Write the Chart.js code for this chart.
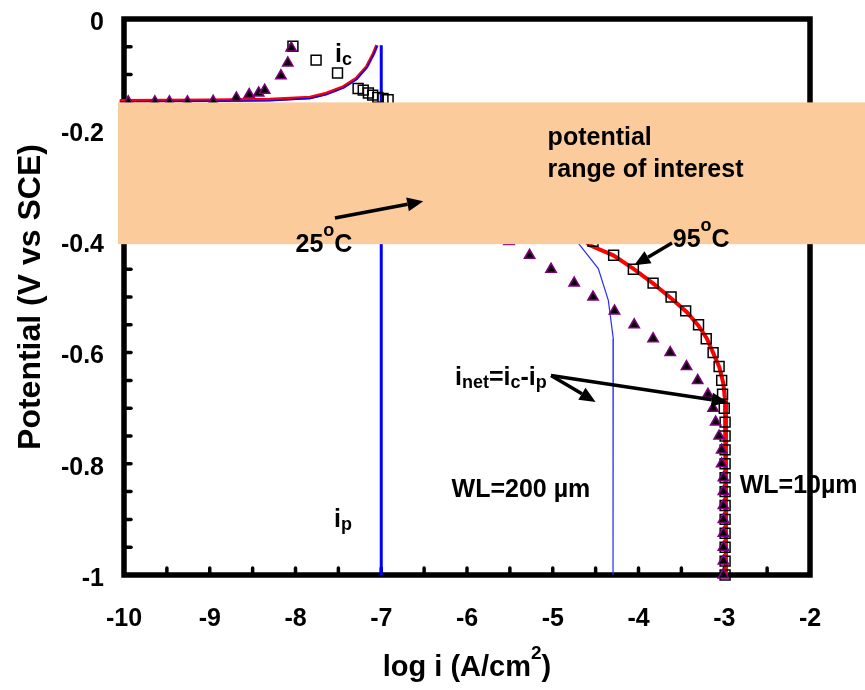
<!DOCTYPE html>
<html>
<head>
<meta charset="utf-8">
<script src="https://cdn.jsdelivr.net/npm/chart.js@4.4.1/dist/chart.umd.min.js"></script>
<style>
    html, body { margin: 0; padding: 0; background: #fff; }
    #grafico { display: block; }
</style>
</head>
<body>
<canvas id="grafico" width="865" height="690"></canvas>
<script>
const FONT = '"Liberation Sans", Arial, sans-serif';

// Ejes: log i (A/cm2) en x, potencial (V vs SCE) en y
const xTicks = [-10, -9, -8, -7, -6, -5, -4, -3, -2];
const yTicks = [0, -0.2, -0.4, -0.6, -0.8, -1];

// Rango de potencial de interes (banda)
const bandTop = -0.15;
const bandBottom = -0.405;

// 25 C: corriente pasiva i_p (linea azul gruesa)
const ip25Log = [-7, -7];
const ip25V = [-0.047, -1];

// 25 C: curva calculada (roja con azul encima)
const net25Log = [-10.05, -9, -8.3, -7.83, -7.64, -7.44, -7.29, -7.17, -7.09, -7.05];
const net25V = [-0.147, -0.146, -0.145, -0.141, -0.134, -0.122, -0.107, -0.086, -0.062, -0.047];
const net25BlueV = [-0.149, -0.148, -0.147, -0.143, -0.136, -0.124, -0.109, -0.088, -0.064, -0.049];

// 25 C: i_c (cuadros) y i_net (triangulos)
const ic25Log = [-8.03, -7.76, -7.51, -7.27, -7.21, -7.15, -7.10, -7.04, -6.98, -6.92];
const ic25V = [-0.049, -0.074, -0.097, -0.125, -0.128, -0.133, -0.137, -0.141, -0.143, -0.145];
const tri25Log = [-9.95, -9.64, -9.47, -9.26, -8.96, -8.69, -8.54, -8.43, -8.36, -8.17, -8.09, -8.05];
const tri25V = [-0.149, -0.149, -0.149, -0.149, -0.148, -0.142, -0.136, -0.133, -0.128, -0.102, -0.079, -0.052];

// 95 C: potenciales de los puntos
const v95 = [-0.4, -0.425, -0.45, -0.475, -0.5, -0.525, -0.55, -0.575, -0.6, -0.625, -0.65, -0.675, -0.7,
             -0.725, -0.75, -0.775, -0.8, -0.825, -0.85, -0.875, -0.9, -0.925, -0.95, -0.975, -1];
// 95 C: i_c (cuadros)
const ic95Log = [-4.53, -4.29, -4.06, -3.83, -3.62, -3.45, -3.30, -3.21, -3.13, -3.06, -3.03, -3.02, -3.00,
                 -2.99, -2.99, -2.99, -2.99, -2.99, -2.99, -2.99, -2.99, -2.99, -2.99, -2.99, -2.99];
// 95 C: i_net (triangulos)
const net95Log = [-5.51, -5.27, -5.02, -4.75, -4.53, -4.28, -4.05, -3.83, -3.63, -3.44, -3.31, -3.19, -3.13,
                  -3.10, -3.06, -3.03, -3.03, -3.01, -3.01, -3.01, -3.01, -3.01, -3.01, -3.01, -3.01];

// 95 C: WL=10 um (roja) y WL=200 um (azul fina)
const wl10Log = [-4.95, -4.566, -4.294, -4.061, -3.827, -3.613, -3.438, -3.303, -3.205, -3.128, -3.058, -3.011, -2.991, -2.98, -2.98];
const wl10V = [-0.36, -0.407, -0.425, -0.449, -0.476, -0.503, -0.527, -0.551, -0.574, -0.601, -0.626, -0.655, -0.685, -0.721, -1];
const wl200Log = [-4.92, -4.682, -4.469, -4.352, -4.294, -4.297];
const wl200V = [-0.36, -0.407, -0.449, -0.506, -0.575, -1];

const pts = (xs, ys) => xs.map((v, i) => ({ x: v, y: ys[i] }));

// Textos sobre el grafico: [partes, log i, V]
const etiquetas = [
    [[['i'], ['c', 'sub']], -7.54, -0.078],
    [[['potential']], -5.06, -0.227],
    [[['range of interest']], -5.06, -0.285],
    [[['25'], ['o', 'sup'], ['C']], -8.0, -0.419],
    [[['95'], ['o', 'sup'], ['C']], -3.6, -0.41],
    [[['i'], ['net', 'sub'], ['=i'], ['c', 'sub'], ['-i'], ['p', 'sub']], -6.14, -0.658],
    [[['WL=200 \u00b5m']], -6.18, -0.86],
    [[['WL=10\u00b5m']], -2.82, -0.853],
    [[['i'], ['p', 'sub']], -7.55, -0.914]
];

// Flechas: [x1, y1, x2, y2] en unidades del grafico
const flechas = [
    [-7.54, -0.358, -6.51, -0.328],
    [-3.61, -0.403, -4.05, -0.443],
    [-5.02, -0.641, -4.50, -0.689],
    [-5.02, -0.641, -2.96, -0.689]
];

const dibujarTexto = (ctx, partes, x, y) => {
    let cx = x;
    partes.forEach(([t, tipo]) => {
        ctx.font = `bold ${tipo ? 18 : 25}px ${FONT}`;
        const dy = tipo === 'sub' ? 3 : tipo === 'sup' ? -16 : 0;
        ctx.fillText(t, cx, y + dy);
        cx += ctx.measureText(t).width;
    });
};

const flecha = (ctx, x1, y1, x2, y2) => {
    const ang = Math.atan2(y2 - y1, x2 - x1);
    const largo = 16, ancho = 7;
    const bx = x2 - largo * Math.cos(ang), by = y2 - largo * Math.sin(ang);
    ctx.beginPath();
    ctx.moveTo(x1, y1);
    ctx.lineTo(bx, by);
    ctx.stroke();
    ctx.beginPath();
    ctx.moveTo(x2, y2);
    ctx.lineTo(bx + ancho * Math.sin(ang), by - ancho * Math.cos(ang));
    ctx.lineTo(bx - ancho * Math.sin(ang), by + ancho * Math.cos(ang));
    ctx.closePath();
    ctx.fill();
};

const decoracion = {
    id: 'decoracion',
    beforeDatasetsDraw(chart) {
        const { ctx, chartArea: a, scales: { x, y } } = chart;
        ctx.save();
        ctx.strokeStyle = '#000';
        ctx.lineWidth = 3.5;
        ctx.lineCap = 'round';
        // marcas hacia adentro cada 0.5 en x y cada 0.05 en y
        for (let i = 1; i < 16; i++) {
            const px = x.getPixelForValue(-10 + i * 0.5);
            ctx.beginPath(); ctx.moveTo(px, a.bottom); ctx.lineTo(px, a.bottom - 7); ctx.stroke();
        }
        for (let i = 1; i < 20; i++) {
            const py = y.getPixelForValue(-i * 0.05);
            ctx.beginPath(); ctx.moveTo(a.left, py); ctx.lineTo(a.left + 7, py); ctx.stroke();
        }
        ctx.lineCap = 'butt';
        ctx.lineWidth = 5.5;
        ctx.strokeRect(a.left, a.top, a.right - a.left, a.bottom - a.top);
        ctx.restore();
    },
    afterDatasetsDraw(chart) {
        const { ctx, chartArea: a, scales: { x, y } } = chart;
        ctx.save();
        // banda del rango de interes
        const x0 = x.getPixelForValue(-10) - 6;
        const y0 = y.getPixelForValue(bandTop), y1 = y.getPixelForValue(bandBottom);
        ctx.fillStyle = '#fbcb9b';
        ctx.fillRect(x0, y0, chart.width - x0, y1 - y0);

        ctx.strokeStyle = '#000';
        ctx.fillStyle = '#000';
        ctx.lineWidth = 3.5;
        flechas.forEach(([a1, b1, a2, b2]) => flecha(ctx,
            x.getPixelForValue(a1), y.getPixelForValue(b1),
            x.getPixelForValue(a2), y.getPixelForValue(b2)));

        ctx.textBaseline = 'alphabetic';
        ctx.textAlign = 'left';
        etiquetas.forEach(([partes, lx, ly]) =>
            dibujarTexto(ctx, partes, x.getPixelForValue(lx), y.getPixelForValue(ly)));

        // titulo del eje x con superindice
        ctx.font = `bold 29px ${FONT}`;
        const t1 = 'log i (A/cm', t2 = '2', t3 = ')';
        const w1 = ctx.measureText(t1).width, w3 = ctx.measureText(t3).width;
        ctx.font = `bold 19px ${FONT}`;
        const w2 = ctx.measureText(t2).width;
        let cx = (a.left + a.right) / 2 - (w1 + w2 + w3) / 2;
        const base = 676;
        ctx.font = `bold 29px ${FONT}`;
        ctx.fillText(t1, cx, base); cx += w1;
        ctx.font = `bold 19px ${FONT}`;
        ctx.fillText(t2, cx, base - 17); cx += w2;
        ctx.font = `bold 29px ${FONT}`;
        ctx.fillText(t3, cx, base);
        ctx.restore();
    }
};

const tri = (data) => ({
    data, showLine: false, pointStyle: 'triangle', pointRadius: 6,
    backgroundColor: '#000', borderColor: '#800080', borderWidth: 1.5, clip: false
});
const cuad = (data) => ({
    data, showLine: false, pointStyle: 'rect', pointRadius: 7,
    backgroundColor: 'rgba(0,0,0,0)', borderColor: '#000', borderWidth: 1.5, clip: false
});
const linea = (data, color, ancho) => ({
    data, showLine: true, pointRadius: 0, borderColor: color, borderWidth: ancho,
    tension: 0, fill: false, clip: false
});

const ctx = document.getElementById('grafico').getContext('2d');
new Chart(ctx, {
    type: 'scatter',
    data: {
        datasets: [
            tri(pts(tri25Log, tri25V)),
            tri(pts(net95Log, v95)),
            cuad(pts(ic25Log, ic25V)),
            cuad(pts(ic95Log, v95)),
            linea(pts(net25Log, net25BlueV), '#0000ff', 1.5),
            linea(pts(net25Log, net25V), '#ff0000', 3.5),
            linea(pts(wl10Log, wl10V), '#ff0000', 4),
            linea(pts(wl200Log, wl200V), '#2a2aff', 1.2),
            linea(pts(ip25Log, ip25V), '#0000ff', 3)
        ]
    },
    options: {
        responsive: false,
        animation: false,
        devicePixelRatio: 1,
        layout: { padding: { left: 0, right: 55, top: 19, bottom: 0 } },
        plugins: { legend: { display: false }, tooltip: { enabled: false } },
        scales: {
            x: {
                type: 'linear', min: -10, max: -2,
                grid: { display: false, drawTicks: false },
                border: { display: false },
                afterBuildTicks: s => { s.ticks = xTicks.map(v => ({ value: v })); },
                ticks: {
                    padding: 29, color: '#000', maxRotation: 0,
                    font: { family: FONT, size: 25, weight: 'bold' },
                    callback: v => String(v)
                },
                afterFit: s => { s.height = 115; s.paddingLeft = 0; s.paddingRight = 0; }
            },
            y: {
                type: 'linear', min: -1, max: 0,
                grid: { display: false, drawTicks: false },
                border: { display: false },
                afterBuildTicks: s => { s.ticks = yTicks.map(v => ({ value: v })); },
                ticks: {
                    padding: 20, color: '#000', labelOffset: 4,
                    font: { family: FONT, size: 25, weight: 'bold' },
                    callback: v => String(Number(v.toFixed(1)))
                },
                title: {
                    display: true, text: 'Potential (V vs SCE)', color: '#000',
                    font: { family: FONT, size: 32, weight: 'bold' },
                    padding: { top: 12, bottom: 0 }
                },
                afterFit: s => { s.width = 124; s.paddingTop = 0; s.paddingBottom = 0; }
            }
        }
    },
    plugins: [decoracion]
});
</script>
</body>
</html>
